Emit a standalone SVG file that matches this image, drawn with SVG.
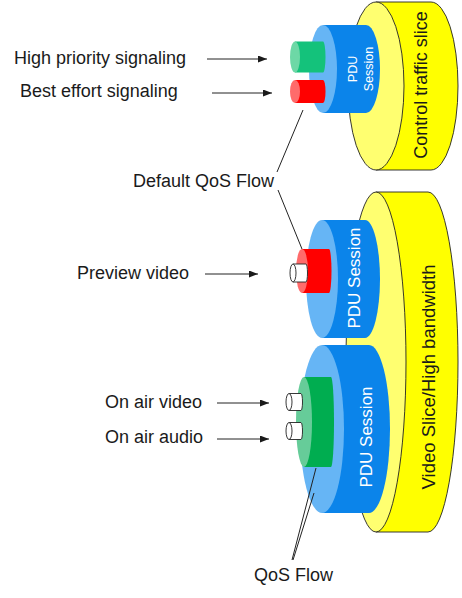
<svg xmlns="http://www.w3.org/2000/svg" width="462" height="598" viewBox="0 0 462 598">
<defs>
<style>
.lbl{font-family:"Liberation Sans",Arial,sans-serif;font-size:18px;fill:#1a1a1a}
.rot{font-family:"Liberation Sans",Arial,sans-serif;text-anchor:middle}
.ybody{fill:#ffff00;stroke:#222;stroke-width:0.9}
.yface{fill:#ffff70;stroke:#222;stroke-width:0.9}
.bbody{fill:#0b84ea}
.bface{fill:#66b5f5}
.rbody{fill:#ff0000}
.rface{fill:#ff6b6b}
.gbody{fill:#14c27b}
.gface{fill:#6dd8a6}
.g2body{fill:#00ad50}
.g2face{fill:#66cc99}
.wbody{fill:#fff;stroke:#222;stroke-width:0.9}
.conn{stroke:#222;stroke-width:1;fill:none}
</style>
<marker id="ah" markerWidth="9" markerHeight="7" refX="9" refY="3.5" orient="auto" markerUnits="userSpaceOnUse">
<path d="M0,0 L9,3.5 L0,7 Z" fill="#1a1a1a"/>
</marker>
</defs>

<g id="control-slice">
<path class="ybody" d="M376,2 L431,2 A27,84 0 0 1 431,170 L376,170 Z"/>
<ellipse class="yface" cx="376" cy="86" rx="28" ry="84"/>
<text class="rot" transform="translate(427,85) rotate(-90)" font-size="18" fill="#1a1a1a">Control traffic slice</text>
</g>

<g id="video-slice">
<path class="ybody" d="M376,192 L428,192 A30,170 0 0 1 428,532 L376,532 Z"/>
<ellipse class="yface" cx="376" cy="362" rx="30" ry="170"/>
<text class="rot" transform="translate(435,377) rotate(-90)" font-size="18.5" fill="#1a1a1a">Video Slice/High bandwidth</text>
</g>

<g id="pdu-session-top">
<path class="bbody" d="M323,25 L366,25 A14,44 0 0 1 366,113 L323,113 Z"/>
<ellipse class="bface" cx="323" cy="69" rx="14" ry="44"/>
<text class="rot" transform="translate(357,69) rotate(-90)" font-size="12.5" fill="#fff">PDU</text>
<text class="rot" transform="translate(373,69) rotate(-90)" font-size="12.5" fill="#fff">Session</text>
</g>

<g id="flow-high-priority">
<path class="gbody" d="M295,41.5 L323,41.5 A2.5,15.5 0 0 1 323,72.5 L295,72.5 Z"/>
<ellipse class="gface" cx="295" cy="57" rx="5" ry="15.5"/>
</g>

<g id="flow-best-effort">
<path class="rbody" d="M295,80 L323,80 A2.5,11.5 0 0 1 323,103 L295,103 Z"/>
<ellipse class="rface" cx="295" cy="91.5" rx="5" ry="11.5"/>
</g>

<g id="pdu-session-middle">
<path class="bbody" d="M322,220 L365,220 A15,59 0 0 1 365,338 L322,338 Z"/>
<ellipse class="bface" cx="322" cy="279" rx="16" ry="59"/>
<text class="rot" transform="translate(360,278) rotate(-90)" font-size="17" fill="#fff">PDU Session</text>
</g>

<g id="flow-default">
<path class="rbody" d="M302,249 L329,249 A2.5,22 0 0 1 329,293 L302,293 Z"/>
<ellipse class="rface" cx="302" cy="271" rx="6" ry="22"/>
</g>

<g id="flow-preview-video">
<path class="wbody" d="M293,264 L306,264 A1.5,9 0 0 1 306,282 L293,282"/>
<ellipse class="wbody" cx="293" cy="273" rx="3" ry="9"/>
</g>

<g id="pdu-session-bottom">
<path class="bbody" d="M322,345 L369,345 A21,84 0 0 1 369,513 L322,513 Z"/>
<ellipse class="bface" cx="322" cy="429" rx="22" ry="84"/>
<text class="rot" transform="translate(372,437) rotate(-90)" font-size="17" fill="#fff">PDU Session</text>
</g>

<g id="flow-on-air">
<path class="g2body" d="M304,377 L331,377 A3,45 0 0 1 331,467 L304,467 Z"/>
<ellipse class="g2face" cx="304" cy="422" rx="8" ry="45"/>
</g>

<g id="flow-on-air-video">
<path class="wbody" d="M289,393.5 L301,393.5 A1.5,8.5 0 0 1 301,410.5 L289,410.5"/>
<ellipse class="wbody" cx="289" cy="402" rx="3" ry="8.5"/>
</g>

<g id="flow-on-air-audio">
<path class="wbody" d="M289,422.5 L301,422.5 A1.5,8.5 0 0 1 301,439.5 L289,439.5"/>
<ellipse class="wbody" cx="289" cy="431" rx="3" ry="8.5"/>
</g>

<g id="labels">
<text class="lbl" x="14" y="64">High priority signaling</text>
<text class="lbl" x="20" y="97">Best effort signaling</text>
<text class="lbl" x="133" y="187">Default QoS Flow</text>
<text class="lbl" x="77" y="279">Preview video</text>
<text class="lbl" x="105" y="408">On air video</text>
<text class="lbl" x="105" y="443">On air audio</text>
<text class="lbl" x="254" y="581">QoS Flow</text>
</g>

<g id="connectors">
<line class="conn" x1="207" y1="59" x2="267" y2="59" marker-end="url(#ah)"/>
<line class="conn" x1="212" y1="93" x2="272" y2="93" marker-end="url(#ah)"/>
<line class="conn" x1="205" y1="274" x2="258" y2="274" marker-end="url(#ah)"/>
<line class="conn" x1="217" y1="403" x2="269" y2="403" marker-end="url(#ah)"/>
<line class="conn" x1="217" y1="439" x2="269" y2="439" marker-end="url(#ah)"/>
<line class="conn" x1="303" y1="110" x2="277" y2="172"/>
<line class="conn" x1="278" y1="190" x2="302" y2="249"/>
<line class="conn" x1="316" y1="468" x2="292" y2="560"/>
<line class="conn" x1="314" y1="493" x2="293" y2="560"/>
</g>
</svg>
